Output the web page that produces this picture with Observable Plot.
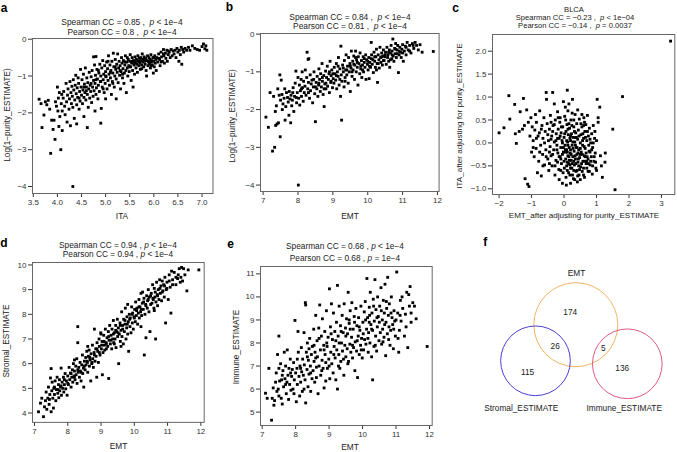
<!DOCTYPE html>
<html><head><meta charset="utf-8">
<script src="https://cdn.jsdelivr.net/npm/d3@7"></script>
<script src="https://cdn.jsdelivr.net/npm/@observablehq/plot@0.6"></script>
<style>
body{margin:0;background:#fff;}
#fig{position:relative;width:677px;height:452px;overflow:hidden;font-family:"Liberation Sans",Arial,Helvetica,sans-serif;color:#222;background:#fff}
#fig svg{position:absolute;max-width:none;}
</style></head><body><div id="fig"></div>
<script>
// ---------- data ----------
const ptsA = [[3.62,-1.63],[3.66,-1.75],[3.68,-2.4],[3.72,-2.06],[3.75,-1.7],[3.78,-1.78],[3.81,-1.66],[3.84,-1.9],[3.86,-3.1],[3.88,-2.2],
[3.91,-2.45],[3.93,-2.2],[3.95,-2.72],[3.96,-1.7],[3.98,-1.82],[4.0,-1.3],[4.01,-1.95],[4.02,-1.6],[4.03,-2.37],[4.04,-1.45],[4.05,-2.1],[4.07,-3.0],[4.08,-1.75],[4.09,-1.5],[4.1,-2.48],[4.1,-1.95],
[4.12,-1.6],[4.13,-1.42],[4.15,-1.82],[4.16,-2.05],[4.18,-1.2],[4.19,-1.7],[4.2,-2.25],[4.21,-1.52],[4.22,-1.35],[4.24,-1.9],[4.25,-1.62],[4.26,-1.15],[4.27,-2.35],[4.28,-1.45],[4.29,-1.75],[4.3,-1.28],
[4.32,-4.0],[4.31,-1.55],[4.32,-1.85],[4.33,-1.1],[4.34,-1.38],[4.35,-2.15],[4.36,-1.65],[4.37,-1.25],[4.38,-0.98],[4.39,-1.48],[4.4,-1.78],[4.4,-2.3],[4.41,-1.32],[4.42,-1.58],[4.43,-1.05],[4.44,-1.2],[4.45,-1.9],[4.46,-1.42],[4.47,-1.68],[4.48,-0.82],[4.49,-1.3],[4.5,-1.52],
[4.51,-1.1],[4.52,-1.75],[4.53,-1.38],[4.54,-0.95],[4.55,-2.1],[4.55,-1.58],[4.56,-1.22],[4.57,-1.45],[4.58,-0.78],[4.59,-1.65],[4.6,-1.3],[4.61,-1.05],[4.62,-2.4],[4.62,-1.5],[4.63,-1.18],[4.64,-1.85],[4.65,-1.35],[4.66,-0.9],[4.67,-1.6],[4.68,-1.25],[4.69,-1.42],[4.7,-1.02],
[4.71,-1.72],[4.72,-0.85],[4.73,-1.3],[4.74,-1.55],[4.75,-0.48],[4.75,-1.12],[4.76,-1.4],[4.77,-0.7],[4.78,-1.95],[4.78,-1.2],[4.79,-0.98],[4.8,-0.47],[4.8,-1.5],[4.81,-1.32],[4.82,-0.82],[4.83,-1.08],[4.84,-1.62],[4.85,-1.25],[4.86,-0.92],[4.87,-1.42],[4.88,-0.68],[4.89,-1.15],[4.9,-2.28],[4.9,-1.0],
[4.91,-1.88],[4.92,-0.78],[4.93,-1.3],[4.94,-0.58],[4.95,-1.1],[4.96,-0.95],[4.97,-1.45],[4.98,-0.72],[4.99,-1.2],[5.0,-0.88],[5.0,-1.62],[5.01,-1.02],[5.02,-0.62],[5.03,-1.35],[5.04,-0.8],[5.05,-1.12],[5.06,-0.45],[5.07,-0.95],[5.08,-1.25],[5.09,-0.7],[5.1,-1.05],
[5.11,-0.85],[5.12,-1.5],[5.13,-0.6],[5.14,-1.15],[5.15,-0.92],[5.16,-0.38],[5.17,-0.75],[5.18,-1.3],[5.19,-1.0],[5.2,-0.55],[5.21,-0.82],[5.22,-1.62],[5.22,-1.08],[5.23,-0.68],[5.24,-0.9],[5.25,-0.4],[5.26,-1.18],[5.27,-0.78],[5.28,-0.6],[5.29,-0.98],[5.3,-0.72],
[5.31,-1.35],[5.32,-0.88],[5.33,-0.5],[5.34,-0.65],[5.35,-1.05],[5.36,-0.8],[5.37,-0.58],[5.38,-1.2],[5.39,-0.92],[5.4,-0.7],[5.41,-0.45],[5.42,-0.85],[5.43,-1.45],[5.44,-0.62],[5.45,-0.78],[5.46,-1.0],[5.47,-0.55],[5.48,-0.72],[5.49,-0.88],[5.5,-0.6],
[5.51,-0.42],[5.52,-0.75],[5.53,-1.12],[5.54,-0.65],[5.55,-0.5],[5.56,-0.85],[5.57,-1.3],[5.58,-0.58],[5.59,-0.7],[5.6,-0.95],[5.61,-0.48],[5.62,-0.62],[5.63,-0.78],[5.64,-0.55],[5.65,-0.68],[5.66,-0.9],[5.67,-0.45],[5.68,-0.6],[5.69,-0.72],[5.7,-0.52],
[5.71,-0.65],[5.72,-0.82],[5.73,-0.5],[5.74,-0.58],[5.75,-0.7],[5.76,-0.4],[5.77,-0.62],[5.78,-0.55],[5.79,-0.75],[5.8,-0.48],[5.81,-0.6],[5.82,-0.68],[5.83,-0.52],[5.84,-0.85],[5.85,-1.0],[5.86,-0.58],[5.87,-0.45],[5.88,-0.72],[5.89,-0.62],[5.9,-0.5],
[5.91,-0.68],[5.92,-0.55],[5.93,-0.78],[5.94,-0.42],[5.95,-0.62],[5.96,-0.58],[5.97,-0.7],[5.98,-0.5],[5.99,-0.92],[6.0,-0.6],[6.01,-0.75],[6.02,-0.45],[6.03,-0.65],[6.04,-0.55],[6.05,-0.85],[6.06,-0.5],[6.08,-0.62],[6.1,-0.4],
[6.12,-0.55],[6.13,-0.72],[6.15,-0.35],[6.16,-0.48],[6.18,-0.6],[6.2,-0.28],[6.21,-0.45],[6.22,-0.65],[6.24,-0.38],[6.25,-0.52],[6.27,-0.3],[6.28,-0.6],[6.3,-0.42],[6.32,-0.35],[6.34,-0.5],[6.36,-0.28],[6.38,-0.45],
[6.4,-0.32],[6.42,-0.4],[6.44,-0.3],[6.46,-0.5],[6.48,-0.25],[6.5,-0.35],[6.52,-0.6],[6.53,-0.3],[6.55,-0.42],[6.57,-0.22],[6.58,-0.68],[6.6,-0.28],[6.62,-0.35],[6.65,-0.25],[6.68,-0.3],
[6.72,-0.22],[6.75,-0.3],[6.8,-0.18],[6.85,-0.25],[6.9,-0.28],[6.95,-0.3],[7.0,-0.2],[7.03,-0.13],[7.06,-0.26],[7.08,-0.18],[7.1,-0.3],
[4.6,-1.4],[4.7,-1.2],[4.8,-1.1],[4.9,-1.15],[5.0,-1.0],[5.1,-0.9],[5.2,-0.75],[5.3,-0.85],[5.4,-0.62],[5.5,-0.75],[5.6,-0.65],[5.7,-0.6],[5.8,-0.55],[5.9,-0.6],[6.0,-0.5],[6.1,-0.52],[6.2,-0.4],[6.3,-0.32],[4.45,-1.6],[4.55,-1.3],[5.05,-0.6],[5.15,-1.2],[5.35,-0.95],[5.45,-0.5],[5.55,-0.6],[5.75,-0.8],[5.95,-0.72],[6.15,-0.62],[4.85,-0.85],[4.95,-1.35]];

const ptsB = [[7.08,-2.2],[7.15,-2.47],[7.2,-1.55],[7.27,-3.1],[7.3,-1.65],[7.33,-3.0],[7.35,-2.05],[7.36,-2.42],[7.38,-1.9],[7.4,-2.38],[7.42,-1.45],[7.44,-2.35],[7.46,-1.62],[7.48,-1.08],[7.49,-2.72],[7.5,-1.75],
[7.52,-1.22],[7.54,-1.6],[7.55,-2.0],[7.57,-1.85],[7.6,-1.7],[7.62,-1.45],[7.63,-2.28],[7.65,-1.92],[7.67,-1.55],[7.7,-1.68],[7.72,-1.8],[7.74,-2.15],[7.75,-1.52],[7.77,-1.72],[7.79,-2.35],[7.8,-1.62],[7.82,-1.9],[7.84,-1.75],[7.86,-1.42],[7.88,-2.05],[7.9,-1.65],[7.92,-1.3],[7.94,-0.98],[7.96,-1.82],[7.98,-1.55],[8.0,-1.15],
[8.01,-4.0],[8.02,-1.7],[8.04,-1.35],[8.05,-1.88],[8.07,-1.5],[8.09,-1.2],[8.1,-1.65],[8.12,-1.0],[8.13,-1.42],[8.15,-1.78],[8.16,-1.25],[8.18,-1.55],[8.2,-1.38],[8.21,-0.95],[8.23,-1.62],[8.25,-1.15],[8.26,-0.48],[8.28,-1.45],[8.29,-0.67],[8.3,-1.28],[8.31,-0.65],[8.33,-1.7],[8.35,-1.08],[8.36,-1.5],[8.38,-1.32],[8.4,-1.22],[8.42,-1.82],[8.44,-1.4],[8.46,-1.0],[8.48,-1.58],[8.5,-2.32],
[8.52,-1.28],[8.54,-1.45],[8.55,-1.12],[8.57,-1.65],[8.59,-1.35],[8.6,-0.92],[8.62,-1.2],[8.64,-1.52],[8.65,-1.05],[8.67,-1.4],[8.69,-0.78],[8.7,-1.25],[8.72,-1.6],[8.74,-1.1],[8.75,-1.92],[8.77,-1.32],[8.79,-0.98],[8.8,-1.45],[8.82,-1.15],[8.84,-0.85],[8.85,-1.38],[8.87,-1.2],[8.89,-1.05],[8.9,-1.55],[8.92,-0.72],[8.94,-1.28],[8.95,-1.1],[8.97,-0.95],[8.99,-1.42],
[9.01,-1.18],[9.03,-1.3],[9.04,-0.88],[9.06,-1.05],[9.08,-1.22],[9.1,-0.78],[9.11,-1.45],[9.13,-1.0],[9.15,-1.12],[9.16,-0.62],[9.18,-1.35],[9.2,-0.92],[9.22,-1.65],[9.23,-0.32],[9.24,-1.08],[9.25,-2.28],[9.26,-1.25],[9.28,-0.82],[9.3,-1.0],[9.32,-1.4],[9.33,-0.7],[9.35,-1.15],[9.37,-0.95],[9.38,-0.55],[9.4,-1.08],[9.42,-0.85],[9.44,-1.3],[9.45,-0.62],[9.47,-1.0],[9.49,-0.78],[9.5,-1.52],
[9.52,-0.9],[9.53,-0.45],[9.55,-1.12],[9.57,-0.72],[9.58,-0.95],[9.6,-0.58],[9.62,-1.2],[9.63,-0.82],[9.65,-0.45],[9.67,-1.0],[9.68,-0.68],[9.7,-0.88],[9.72,-1.35],[9.73,-0.6],[9.75,-0.78],[9.77,-1.05],[9.78,-0.5],[9.8,-0.92],[9.82,-0.7],[9.83,-1.15],[9.85,-0.82],[9.87,-0.6],[9.88,-1.0],[9.9,-0.75],[9.92,-0.88],[9.94,-0.55],[9.95,-1.2],[9.97,-0.68],[9.99,-0.8],
[10.01,-0.95],[10.03,-0.62],[10.04,-1.18],[10.06,-0.75],[10.08,-0.88],[10.1,-0.22],[10.11,-0.55],[10.13,-0.8],[10.15,-0.68],[10.16,-1.02],[10.18,-0.48],[10.2,-0.72],[10.22,-0.88],[10.23,-0.6],[10.25,-0.4],[10.27,-0.78],[10.28,-1.28],[10.3,-0.55],[10.32,-0.68],[10.33,-0.9],[10.35,-0.35],[10.37,-0.62],[10.38,-0.75],[10.4,-0.5],[10.42,-0.82],[10.44,-0.58],[10.45,-0.42],[10.47,-0.7],[10.49,-0.6],
[10.51,-0.48],[10.53,-0.8],[10.55,-0.35],[10.57,-0.62],[10.58,-0.55],[10.6,-0.72],[10.62,-0.42],[10.63,-0.88],[10.65,-0.5],[10.67,-0.3],[10.69,-0.65],[10.7,-0.45],[10.72,-0.13],[10.73,-0.58],[10.75,-0.72],[10.77,-0.38],[10.79,-0.52],[10.8,-0.25],[10.82,-0.62],[10.84,-0.42],[10.86,-0.3],[10.88,-1.02],[10.9,-0.55],[10.92,-0.35],[10.94,-0.48],[10.96,-0.62],[10.98,-0.4],
[11.0,-0.28],[11.02,-0.72],[11.05,-0.45],[11.08,-0.32],[11.1,-0.55],[11.13,-0.22],[11.16,-0.42],[11.2,-0.3],[11.24,-0.5],[11.28,-0.25],[11.32,-0.38],[11.36,-0.22],[11.4,-0.3],[11.45,-0.42],[11.5,-0.28],[11.56,-0.48],[11.88,-0.46],
[8.1,-1.45],[8.3,-1.55],[8.5,-1.4],[8.6,-1.3],[8.7,-1.15],[8.8,-1.3],[8.9,-1.0],[9.0,-1.05],[9.1,-1.1],[9.2,-1.2],[9.3,-0.9],[9.4,-0.95],[9.5,-0.85],[9.6,-0.8],[9.7,-0.75],[9.8,-0.85],[9.9,-0.65],[10.0,-0.72],[10.1,-0.65],[10.2,-0.6],[10.3,-0.78],[10.4,-0.6],[10.5,-0.55],[10.6,-0.48],[10.7,-0.55],[10.8,-0.4],[10.9,-0.45],[11.0,-0.5],[11.1,-0.35],[11.2,-0.45],[11.3,-0.3],[9.55,-1.0],[9.65,-0.62],[9.85,-0.95],[10.05,-0.85],[10.25,-0.95],[10.45,-0.7],[10.65,-0.68],[10.85,-0.52],[9.15,-0.85],[9.35,-1.25],[8.95,-1.25],[8.75,-1.45],[7.95,-1.68],[7.85,-1.55],[8.45,-1.2]];

const ptsC = [[3.28,2.22],[1.8,1.01],[1.5,0.3],[1.57,-1.02],[1.18,-0.75],[1.27,-0.22],[1.26,-0.42],[1.1,0.78],[1.02,0.95],[1.05,0.55],[1.05,0.45],[1.12,-0.28],[1.15,-0.5],
[-2.0,0.22],[-1.85,0.33],[-1.7,1.03],[-1.67,0.52],[-1.52,0.84],[-1.5,0.2],[-1.47,-0.01],[-1.38,0.25],[-1.35,0.68],[-1.28,0.3],[-1.25,0.97],[-1.22,0.38],[-1.2,-0.78],[-1.15,0.72],[-1.12,-0.9],[-1.1,0.45],[-1.08,-0.95],[-1.05,0.15],[-1.02,0.55],[-1.0,-0.2],[-0.98,0.35],[-0.95,0.05],[-0.92,-0.3],[-0.9,0.28],[-0.88,0.62],[-0.86,-0.12],[-0.85,0.45],[-0.82,-0.65],[-0.8,0.15],[-0.78,-0.4],[-0.76,0.22],[-0.75,0.7],[-0.72,-0.05],[-0.7,-0.72],[-0.68,0.38],[-0.66,-0.25],[-0.65,0.1],[-0.62,0.55],[-0.6,-0.48],[-0.58,0.25],[-0.56,-0.15],[-0.55,1.1],[-0.54,0.95],[-0.52,0.42],[-0.5,-0.35],[-0.48,0.05],[-0.47,-0.6],[-0.45,0.3],[-0.43,-0.08],[-0.42,0.6],[-0.4,-0.28],[-0.38,0.15],[-0.37,-0.5],[-0.35,1.1],[-0.34,0.38],[-0.32,-0.15],[-0.3,0.02],[-0.28,-0.7],[-0.27,0.5],[-0.25,-0.38],[-0.24,0.2],[-0.22,-0.05],[-0.2,0.68],[-0.19,-0.22],[-0.18,0.3],[-0.16,-0.58],[-0.15,0.1],[-0.13,0.45],[-0.12,-0.3],[-0.1,-0.1],[-0.09,0.22],[-0.08,-0.45],[-0.06,0.05],[-0.05,-0.88],[-0.04,0.35],[-0.02,-0.2],[0.0,0.12],[0.01,-0.55],[0.02,0.58],[0.03,-0.05],[0.04,0.78],[0.05,-0.35],[0.06,0.25],[0.07,-0.92],[0.08,-0.15],[0.09,0.4],[0.1,-0.6],[0.1,1.15],[0.11,0.02],[0.12,-0.28],[0.13,0.18],[0.14,-0.45],[0.15,0.85],[0.16,-0.1],[0.17,0.32],[0.18,-0.7],[0.19,-0.22],[0.2,0.05],[0.21,0.5],[0.22,-0.38],[0.23,0.2],[0.24,-0.55],[0.25,-0.05],[0.26,0.95],[0.27,-0.3],[0.28,0.12],[0.29,-0.78],[0.3,0.35],[0.31,-0.18],[0.32,-0.48],[0.33,0.02],[0.34,0.62],[0.35,-0.35],[0.36,0.22],[0.37,-0.62],[0.38,-0.1],[0.39,0.42],[0.4,-0.25],[0.41,-0.85],[0.42,0.08],[0.43,-0.42],[0.44,0.28],[0.45,-0.15],[0.46,-0.7],[0.47,0.52],[0.48,-0.32],[0.5,0.0],[0.51,-0.52],[0.52,0.18],[0.53,-0.2],[0.55,0.35],[0.56,-0.62],[0.57,-0.05],[0.58,-0.4],[0.6,0.1],[0.61,0.55],[0.62,-0.28],[0.63,-0.75],[0.64,0.25],[0.65,-0.12],[0.67,0.4],[0.68,-0.45],[0.7,0.05],[0.71,-0.3],[0.72,0.6],[0.74,-0.62],[0.75,0.15],[0.77,-0.18],[0.78,0.32],[0.8,-0.48],[0.82,0.0],[0.84,-0.3],[0.85,0.2],[0.87,-0.68],[0.88,-0.1],[0.9,0.38],[0.92,-0.4],[0.94,0.1],[0.96,-0.22],[0.98,-0.55],[1.0,0.05],[0.42,0.72],[0.55,0.62],[0.63,0.45],[-0.02,0.9],[0.12,0.7],[0.25,0.65],[-0.3,0.85],[-0.12,0.55],
[0.15,-0.3],[0.3,-0.4],[0.45,-0.5],[0.05,-0.2],[-0.1,-0.35],[0.2,-0.15],[0.35,-0.05],[0.5,-0.25],[0.6,-0.55],[0.25,-0.45],[0.4,-0.6],[0.1,-0.42],[-0.05,0.0],[0.2,0.15],[-0.2,0.1],[0.7,-0.4],[0.8,-0.2],[0.15,0.42],[-0.35,0.25],[-0.45,-0.2],
[-0.6,0.0],[-0.55,-0.3],[-0.5,0.18],[-0.45,-0.45],[-0.4,0.08],[-0.35,-0.25],[-0.3,0.4],[-0.28,-0.5],[-0.25,0.05],[-0.22,-0.15],[-0.2,-0.42],[-0.18,0.55],[-0.15,-0.3],[-0.12,0.15],[-0.1,-0.6],[-0.08,0.35],[-0.05,-0.25],[-0.03,-0.65],[0.0,-0.4],[0.02,0.2],[0.04,-0.15],[0.06,-0.75],[0.08,0.05],[0.1,-0.2],[0.12,0.3],[0.14,-0.65],[0.16,-0.38],[0.18,0.1],[0.2,-0.55],[0.22,-0.25],[0.24,0.38],[0.26,-0.7],[0.28,-0.12],[0.3,-0.6],[0.32,0.25],[0.34,-0.28],[0.36,-0.45],[0.38,0.12],[0.4,-0.1],[0.42,-0.72],[0.44,-0.35],[0.46,0.15],[0.48,-0.58],[0.5,-0.12],[0.52,0.42],[0.54,-0.45],[0.56,-0.25],[0.58,0.2],[0.6,-0.7],[0.62,-0.08],[0.64,-0.4],[0.66,0.12],[0.68,-0.22],[0.7,-0.55],[0.72,0.25],[0.74,-0.35],[0.76,-0.05],[0.78,-0.62],[0.8,0.08],[0.82,-0.4],[0.85,-0.15],[0.88,-0.5],[0.9,0.0],[0.93,-0.3],[0.95,0.25],[0.97,-0.42],[1.0,-0.6],[0.2,-0.88],[0.33,-0.8],[0.5,-0.8],[-0.15,-0.8],[0.05,0.5],[0.3,0.5],[0.6,0.38],[-0.4,0.45],[-0.7,0.3],[-0.75,-0.2],[-0.65,-0.5],[-0.85,0.1],[-0.95,-0.1],[0.12,-0.05],[0.27,0.02],[0.43,-0.22],[0.57,0.05],[0.08,-0.5],[-0.02,-0.1],[0.35,0.12],[0.18,-0.48],[0.65,-0.3],[0.75,-0.45]];

const ptsD = [[7.12,4.05],[7.18,4.4],[7.22,4.6],[7.27,3.85],[7.3,4.25],[7.33,4.5],[7.35,4.85],[7.37,4.15],[7.4,4.6],[7.42,5.05],[7.44,4.35],[7.46,4.75],[7.48,5.42],[7.5,4.05],[7.5,5.8],[7.52,4.9],
[7.53,5.25],[7.55,4.6],[7.57,4.2],[7.58,5.0],[7.6,4.75],[7.62,5.3],[7.64,4.5],[7.66,4.95],[7.68,5.45],[7.7,4.8],[7.72,5.15],[7.73,4.62],[7.75,5.35],[7.76,4.9],[7.78,5.05],[7.8,5.82],[7.81,4.72],[7.83,5.25],[7.85,5.0],[7.87,5.45],[7.88,4.85],[7.9,5.15],[7.92,5.6],[7.94,4.98],[7.96,5.3],[7.98,4.72],[8.0,5.5],
[8.02,5.15],[8.04,5.85],[8.06,5.35],[8.08,5.62],[8.1,5.05],[8.12,5.45],[8.14,5.75],[8.15,5.25],[8.17,6.0],[8.19,5.5],[8.2,5.7],[8.22,5.35],[8.24,5.9],[8.25,5.55],[8.27,6.2],[8.28,5.2],[8.3,6.85],[8.3,7.5],[8.31,5.65],[8.33,5.85],[8.35,5.45],[8.37,6.05],[8.38,5.7],[8.4,5.3],[8.42,5.95],[8.44,6.35],[8.45,5.6],[8.47,5.82],[8.48,5.05],[8.5,6.1],
[8.52,5.75],[8.54,6.25],[8.55,5.95],[8.57,6.5],[8.59,6.05],[8.6,5.65],[8.62,6.3],[8.64,6.55],[8.65,5.9],[8.67,6.15],[8.69,5.3],[8.7,6.4],[8.72,6.0],[8.74,6.75],[8.75,6.2],[8.77,5.85],[8.79,6.45],[8.8,7.4],[8.82,6.1],[8.84,6.6],[8.85,6.3],[8.87,5.45],[8.88,6.85],[8.9,6.5],[8.92,6.05],[8.94,7.0],[8.95,6.7],[8.97,6.35],[8.99,7.25],
[9.01,6.6],[9.03,6.9],[9.04,5.55],[9.06,6.45],[9.08,7.15],[9.1,6.75],[9.11,6.55],[9.13,7.4],[9.15,6.85],[9.16,6.6],[9.18,7.05],[9.2,6.7],[9.22,7.3],[9.23,5.4],[9.24,6.95],[9.26,7.55],[9.28,6.8],[9.3,7.15],[9.32,6.6],[9.33,7.4],[9.35,7.0],[9.37,7.75],[9.38,6.85],[9.4,7.25],[9.42,7.0],[9.44,7.55],[9.45,6.65],[9.47,7.3],[9.49,7.8],[9.5,7.1],
[9.52,7.45],[9.53,6.0],[9.55,7.2],[9.57,7.65],[9.58,6.9],[9.6,7.35],[9.62,8.1],[9.63,7.1],[9.65,7.55],[9.67,6.8],[9.68,7.8],[9.7,7.3],[9.72,7.6],[9.73,8.25],[9.75,7.0],[9.77,7.45],[9.78,7.9],[9.8,7.2],[9.82,7.7],[9.83,6.5],[9.85,8.0],[9.87,7.5],[9.88,7.85],[9.9,7.25],[9.92,8.3],[9.94,7.65],[9.95,8.05],[9.97,7.4],[9.99,7.9],
[10.01,8.2],[10.03,7.7],[10.04,8.5],[10.06,7.95],[10.08,8.25],[10.1,7.6],[10.12,8.05],[10.14,8.6],[10.15,7.85],[10.17,8.3],[10.19,8.1],[10.2,8.85],[10.22,7.95],[10.24,8.45],[10.25,8.9],[10.27,8.2],[10.29,8.65],[10.3,6.35],[10.32,8.0],[10.34,8.4],[10.35,7.05],[10.37,8.75],[10.39,8.25],[10.4,8.55],[10.42,9.0],[10.44,8.1],[10.45,8.7],[10.47,7.3],[10.49,8.4],
[10.51,8.85],[10.53,8.45],[10.55,9.2],[10.57,8.6],[10.59,8.25],[10.6,9.05],[10.62,8.7],[10.64,7.0],[10.65,8.5],[10.67,9.3],[10.69,8.8],[10.7,8.35],[10.72,9.0],[10.74,8.6],[10.76,9.4],[10.78,8.85],[10.8,9.15],[10.82,8.55],[10.84,9.35],[10.86,8.95],[10.88,9.2],[10.9,8.7],[10.92,9.5],[10.94,7.65],[10.96,9.0],[10.98,9.3],
[11.02,8.6],[11.05,9.6],[11.08,9.1],[11.1,8.05],[11.12,9.75],[11.15,9.4],[11.2,9.7],[11.25,9.2],[11.3,9.45],[11.35,9.85],[11.38,9.3],[11.4,9.5],[11.42,9.9],[11.45,9.35],[11.48,9.85],[11.52,9.6],[11.58,8.95],[11.62,9.8],[11.94,9.8],
[7.45,4.55],[7.6,5.05],[7.7,4.95],[7.8,5.1],[7.9,5.35],[8.0,5.2],[8.1,5.6],[8.2,5.45],[8.3,5.75],[8.4,5.65],[8.5,5.9],[8.58,6.1],[8.66,6.25],[8.73,6.05],[8.8,6.35],[8.88,6.6],[8.95,6.45],[9.02,6.75],[9.09,6.9],[9.16,6.8],[9.23,7.1],[9.3,6.95],[9.37,7.2],[9.44,7.35],[9.51,7.25],[9.58,7.55],[9.65,7.4],[9.72,7.75],[9.79,7.6],[9.86,7.8],[9.93,8.0],[10.0,7.85],[10.07,8.15],[10.14,8.3],[10.21,8.2],[10.28,8.5],[10.35,8.35],[10.42,8.6],[10.49,8.75],[10.56,8.65],[10.63,8.9],[10.7,8.75],[10.77,9.05],[10.84,8.9],[10.91,9.15],[10.98,9.05],[11.05,9.35],[11.15,9.2],[11.25,9.5],[11.32,9.6],[9.0,7.2],[9.4,6.8],[9.8,8.4],[10.2,7.5],[8.6,6.7],[8.2,6.15],[10.6,8.15],[9.6,6.7]];

const ptsE = [[7.1,5.82],[7.15,5.6],[7.2,6.9],[7.28,4.65],[7.3,5.6],[7.33,6.05],[7.35,5.3],[7.37,5.5],[7.4,6.3],[7.42,6.7],[7.44,5.9],[7.46,7.5],[7.48,6.0],[7.5,8.3],[7.5,5.7],[7.5,6.9],
[7.52,6.35],[7.55,7.1],[7.57,5.6],[7.58,6.4],[7.6,5.35],[7.62,6.8],[7.64,6.1],[7.66,7.6],[7.68,6.45],[7.7,7.0],[7.72,5.8],[7.74,6.3],[7.75,7.7],[7.77,6.6],[7.79,5.55],[7.8,6.9],[7.82,6.2],[7.84,7.3],[7.86,5.95],[7.88,6.55],[7.9,6.85],[7.92,6.0],[7.94,7.15],[7.96,6.4],[7.98,8.98],[8.0,6.7],
[8.02,5.45],[8.04,6.9],[8.05,6.2],[8.07,8.5],[8.08,7.6],[8.1,6.55],[8.12,5.7],[8.13,7.0],[8.15,6.3],[8.17,7.8],[8.18,6.75],[8.2,5.9],[8.21,7.3],[8.23,6.6],[8.25,8.45],[8.26,7.05],[8.28,6.4],[8.29,9.75],[8.3,9.65],[8.3,5.4],[8.32,7.6],[8.34,6.85],[8.35,8.0],[8.37,6.1],[8.38,7.25],[8.4,6.65],[8.42,8.2],[8.44,7.0],[8.45,5.9],[8.47,7.5],[8.49,6.45],[8.5,7.85],
[8.52,6.8],[8.54,8.6],[8.55,7.2],[8.57,6.3],[8.58,7.6],[8.6,9.2],[8.62,6.95],[8.64,8.1],[8.65,7.4],[8.67,5.8],[8.69,8.65],[8.7,7.0],[8.72,9.65],[8.74,7.7],[8.75,6.6],[8.77,8.3],[8.79,7.25],[8.8,9.05],[8.82,6.9],[8.84,7.9],[8.85,6.05],[8.87,8.5],[8.88,7.5],[8.9,6.35],[8.92,9.4],[8.94,7.85],[8.95,6.9],[8.97,8.25],[8.99,7.3],
[9.01,10.35],[9.02,6.45],[9.04,8.7],[9.05,7.6],[9.07,9.7],[9.08,7.1],[9.1,8.15],[9.12,6.7],[9.13,9.3],[9.15,7.85],[9.17,8.5],[9.18,7.35],[9.2,6.4],[9.22,8.9],[9.23,7.7],[9.25,10.5],[9.25,6.0],[9.27,8.3],[9.29,7.5],[9.3,9.6],[9.32,6.9],[9.34,8.75],[9.35,7.2],[9.37,8.0],[9.39,9.2],[9.4,7.65],[9.42,8.45],[9.44,6.6],[9.45,9.7],[9.47,7.9],[9.49,8.65],[9.5,7.4],
[9.52,9.05],[9.54,7.75],[9.55,8.4],[9.57,10.2],[9.58,7.2],[9.6,8.85],[9.62,7.95],[9.63,9.4],[9.65,7.6],[9.67,8.25],[9.68,9.75],[9.7,7.35],[9.72,8.6],[9.73,7.8],[9.75,9.15],[9.77,6.8],[9.78,8.05],[9.8,9.5],[9.82,7.65],[9.83,8.75],[9.85,6.5],[9.87,8.3],[9.88,9.1],[9.9,7.5],[9.92,8.55],[9.94,7.9],[9.95,9.6],[9.97,8.2],[9.99,7.35],
[10.01,8.9],[10.03,7.7],[10.05,9.35],[10.06,8.15],[10.08,9.8],[10.1,7.95],[10.12,8.6],[10.13,10.8],[10.15,9.1],[10.17,7.6],[10.18,8.45],[10.2,9.55],[10.22,8.0],[10.23,10.2],[10.25,8.8],[10.27,7.4],[10.28,9.3],[10.3,6.4],[10.3,8.55],[10.32,9.9],[10.34,7.85],[10.35,8.95],[10.37,10.75],[10.39,8.3],[10.4,9.45],[10.42,7.65],[10.44,8.7],[10.45,10.0],[10.47,9.15],[10.49,8.1],
[10.51,9.6],[10.53,8.45],[10.55,10.4],[10.57,7.95],[10.59,9.0],[10.6,8.6],[10.62,9.85],[10.64,8.25],[10.65,9.3],[10.67,10.55],[10.69,7.45],[10.7,8.9],[10.72,9.5],[10.74,8.4],[10.75,10.85],[10.77,9.2],[10.79,8.7],[10.8,9.7],[10.82,7.9],[10.84,8.55],[10.86,10.0],[10.88,9.1],[10.9,8.8],[10.92,7.75],[10.94,9.4],[10.96,8.95],[10.98,8.3],
[11.02,11.08],[11.05,9.3],[11.08,7.6],[11.1,8.55],[11.13,9.85],[11.15,8.95],[11.2,9.5],[11.25,8.3],[11.28,9.25],[11.32,10.2],[11.35,7.8],[11.38,10.1],[11.4,9.6],[11.42,10.45],[11.45,8.9],[11.5,9.75],[11.55,9.6],[11.6,9.05],[11.93,7.85],
[7.6,6.6],[7.7,6.2],[7.85,6.7],[7.95,5.8],[8.05,7.3],[8.15,6.9],[8.25,6.0],[8.35,7.4],[8.45,6.7],[8.55,7.9],[8.62,6.5],[8.7,8.2],[8.78,6.8],[8.85,7.7],[8.93,8.0],[9.0,7.0],[9.06,8.4],[9.14,7.5],[9.2,8.1],[9.28,7.0],[9.36,8.5],[9.43,7.3],[9.5,8.3],[9.56,7.1],[9.63,8.6],[9.7,7.9],[9.76,8.9],[9.84,8.1],[9.9,8.7],[9.96,7.7],[10.02,8.4],[10.09,9.0],[10.16,8.2],[10.21,9.2],[10.27,8.6],[10.33,9.6],[10.38,7.9],[10.43,9.1],[10.5,8.9],[10.56,9.4],[10.61,8.05],[10.66,8.8],[10.71,9.8],[10.78,8.15],[10.85,9.3],[10.93,8.6],[11.0,9.0],[11.06,8.2],[11.12,9.2],[11.18,10.0],[11.3,8.7],[11.45,9.3],[8.4,7.75],[8.9,7.15],[9.6,9.0],[10.2,8.9],[9.3,8.0],[8.6,7.35]];

const titlesA = ["Spearman CC = 0.85 ,  <i>p</i> &lt; 1e\u22124", "Pearson CC = 0.8 ,  <i>p</i> &lt; 1e\u22124"];
const titlesB = ["Spearman CC = 0.84 ,  <i>p</i> &lt; 1e\u22124", "Pearson CC = 0.81 ,  <i>p</i> &lt; 1e\u22124"];
const titlesC = ["BLCA", "Spearman CC = \u22120.23 ,  <i>p</i> &lt; 1e\u221204", "Pearson CC = \u22120.14 ,  <i>p</i> = 0.0037"];
const titlesD = ["Spearman CC = 0.94 , <i>p</i> &lt; 1e\u22124", "Pearson CC = 0.94 , <i>p</i> &lt; 1e\u22124"];
const titlesE = ["Spearman CC = 0.68 , <i>p</i> &lt; 1e\u22124", "Pearson CC = 0.68 , <i>p</i> = 1e\u22124"];

const ticksITA = [3.5,4.0,4.5,5.0,5.5,6.0,6.5,7.0];
const ticksEMT = [7,8,9,10,11,12];
const ticksLogP = [0,-1,-2,-3,-4];
const ticksResX = [-2,-1,0,1,2,3];
const ticksResY = [-1.0,-0.5,0.0,0.5,1.0,1.5,2.0];
const ticksStromal = [4,5,6,7,8,9,10];
const ticksImmune = [5,6,7,8,9,10,11];

// Venn data: region counts
const vennSets = ["EMT","Stromal_ESTIMATE","Immune_ESTIMATE"];
const vennOnly = [174, 115, 136];
const vennEMTStromal = 26;
const vennEMTImmune = 5;
const vennSizes = [vennOnly[0]+vennEMTStromal+vennEMTImmune, vennOnly[1]+vennEMTStromal, vennOnly[2]+vennEMTImmune];
const vennColors = ["#f3b461","#4a40d4","#de5b80"];

// ---------- drawing ----------
const FONT = '"Liberation Sans", Arial, Helvetica, sans-serif';
const fig = document.getElementById("fig");

function addText(html, x, y, size, opts = {}) {
  const d = document.createElement("div");
  d.innerHTML = html;
  d.style.cssText = `position:absolute;left:${x}px;top:${y}px;font-size:${size}px;line-height:1;white-space:pre;` +
    `transform:translate(-50%,-50%)${opts.rot ? " rotate(-90deg)" : ""};` +
    `${opts.bold ? "font-weight:bold;" : ""}color:${opts.color || "#222"};`;
  fig.appendChild(d);
}

function scatter(p) {
  const mL = 30, mR = 4, mT = 4, mB = 24;
  const svg = Plot.plot({
    width: p.R - p.L + mL + mR,
    height: p.B - p.T + mT + mB,
    marginLeft: mL, marginRight: mR, marginTop: mT, marginBottom: mB,
    style: {fontFamily: FONT, fontSize: "8px", color: "#333", background: "none", overflow: "visible"},
    x: {domain: p.xd, ticks: p.xt, tickFormat: p.xf, tickSize: 4, tickPadding: 2, label: null},
    y: {domain: p.yd, ticks: p.yt, tickFormat: p.yf, tickSize: 4, tickPadding: 2, label: null},
    marks: [
      Plot.frame({stroke: "#666"}),
      Plot.dot(p.data, {x: d => d[0], y: d => d[1], symbol: "square", r: 1.6, fill: "#000", stroke: null})
    ]
  });
  svg.style.left = (p.L - mL) + "px";
  svg.style.top = (p.T - mT) + "px";
  fig.appendChild(svg);
}

const f1 = d3.format(".1f"), f0 = d3.format("d");

// Panel a
scatter({L: 31.5, R: 212, T: 38, B: 193, xd: [3.483, 7.228], yd: [-4.19, 0.019], xt: ticksITA, yt: ticksLogP, xf: f1, yf: f0, data: ptsA});
addText("a", 4, 7.5, 12, {bold: true, color: "#000"});
addText(titlesA[0], 122, 22, 8.4);
addText(titlesA[1], 122, 32, 8.4);
addText("ITA", 122, 216, 8.3);
addText("Log(1\u2212purity_ESTIMATE)", 7.5, 115, 8.2, {rot: true});

// Panel b
scatter({L: 259.7, R: 438.3, T: 32.7, B: 190.7, xd: [6.925, 12.046], yd: [-4.17, 0.016], xt: ticksEMT, yt: ticksLogP, xf: f0, yf: f0, data: ptsB});
addText("b", 229.5, 6.5, 12, {bold: true, color: "#000"});
addText(titlesB[0], 350, 16.7, 8.4);
addText(titlesB[1], 350, 25.5, 8.4);
addText("EMT", 350, 216, 8.3);
addText("Log(1\u2212purity_ESTIMATE)", 232.5, 116, 8.2, {rot: true});

// Panel c
scatter({L: 491.7, R: 674, T: 34, B: 194, xd: [-2.203, 3.41], yd: [-1.124, 2.364], xt: ticksResX, yt: ticksResY, xf: f0, yf: f1, data: ptsC});
addText("c", 455.5, 8, 12, {bold: true, color: "#000"});
addText(titlesC[0], 574, 10, 7.6);
addText(titlesC[1], 575, 18.3, 7.6);
addText(titlesC[2], 575, 26.3, 7.6);
addText("EMT_after adjusting for purity_ESTIMATE", 584, 216, 8.1);
addText("ITA_after adjusting for purity_ESTIMATE", 460, 116, 8.1, {rot: true});

// Panel d
scatter({L: 32.3, R: 204, T: 261.8, B: 421.7, xd: [6.94, 12.1], yd: [3.62, 10.1], xt: ticksEMT, yt: ticksStromal, xf: f0, yf: f0, data: ptsD});
addText("d", 4, 242.5, 12, {bold: true, color: "#000"});
addText(titlesD[0], 118, 245, 8.3);
addText(titlesD[1], 118, 254, 8.3);
addText("EMT", 118.5, 445.7, 8.3);
addText("Stromal_ESTIMATE", 7, 341, 8.2, {rot: true});

// Panel e
scatter({L: 260, R: 431.7, T: 266, B: 425, xd: [6.95, 12.08], yd: [4.42, 11.32], xt: ticksEMT, yt: ticksImmune, xf: f0, yf: f0, data: ptsE});
addText("e", 230.5, 243.5, 12, {bold: true, color: "#000"});
addText(titlesE[0], 345, 245.7, 8.3);
addText(titlesE[1], 345, 257.7, 8.3);
addText("EMT", 350, 446.7, 8.3);
addText("Immune_ESTIMATE", 236.7, 346.7, 8.2, {rot: true});

// Panel f (Venn)
const vennLayout = {centers: [[125.3, 99.2], [85, 135.3], [176.8, 138.3]],
  countPos: [[119.7, 86.7], [77, 147], [171.7, 143.3]],
  pairPos: [[104.7, 120.7], [152.7, 122.7]],
  namePos: [[126, 48.3], [70.7, 182.7], [173.7, 182.7]]};
const circles = vennSets.map((s, i) => ({name: s, size: vennSizes[i], color: vennColors[i], x: vennLayout.centers[i][0], y: vennLayout.centers[i][1]}));
const counts = vennOnly.map((n, i) => ({t: String(n), x: vennLayout.countPos[i][0], y: vennLayout.countPos[i][1]}))
  .concat([vennEMTStromal, vennEMTImmune].map((n, i) => ({t: String(n), x: vennLayout.pairPos[i][0], y: vennLayout.pairPos[i][1]})));
const names = vennSets.map((s, i) => ({t: s, x: vennLayout.namePos[i][0], y: vennLayout.namePos[i][1]}));
const venn = Plot.plot({
  width: 227, height: 227, margin: 0,
  style: {fontFamily: FONT, background: "none", overflow: "visible"},
  x: {domain: [0, 227], axis: null},
  y: {domain: [227, 0], axis: null},
  r: {type: "sqrt", domain: [0, vennSizes[0]], range: [0, 42]},
  marks: [
    Plot.dot(circles, {x: "x", y: "y", r: "size", stroke: "color", fill: "none", strokeWidth: 1}),
    Plot.text(counts, {x: "x", y: "y", text: "t", fontSize: 8.3, fill: "#222"}),
    Plot.text(names, {x: "x", y: "y", text: "t", fontSize: 8.3, fill: "#222"})
  ]
});
venn.style.left = "450px";
venn.style.top = "225px";
fig.appendChild(venn);
addText("f", 485.3, 242.2, 12, {bold: true, color: "#000"});
</script></body></html>
